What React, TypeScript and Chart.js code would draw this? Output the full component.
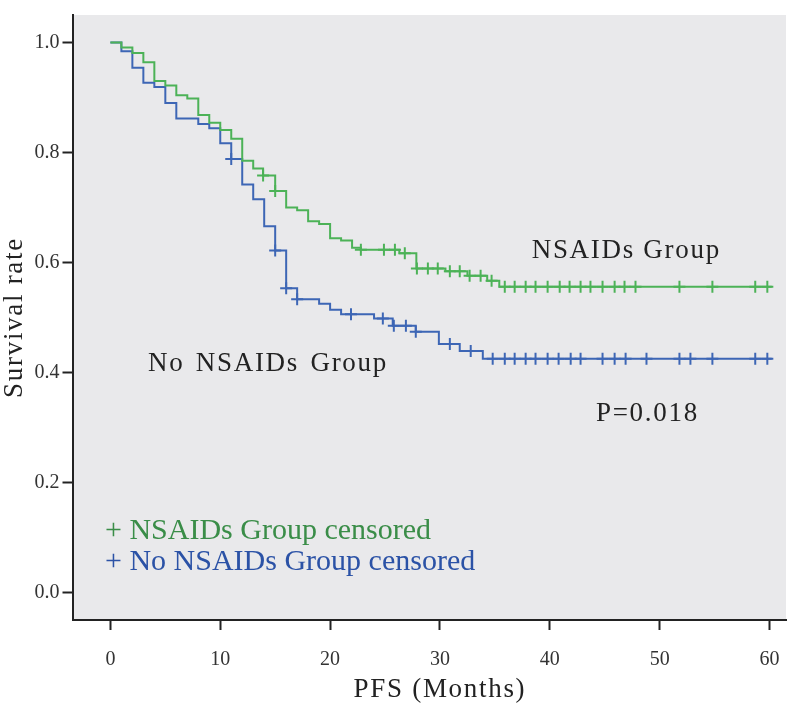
import React, { useEffect, useRef } from "react";
import { Chart, registerables } from "chart.js";

Chart.register(...registerables);

// ---- Data ----
const nsaidTimes = [0, 1, 2, 3, 4, 5, 6, 7, 8, 9, 10, 11, 12, 13, 13.9, 15, 16, 17, 18, 19, 20, 21, 22, 22.8, 26.3, 27.85, 30.5, 32.5, 34.3, 35.4];
const nsaidSurv = [1, 0.991, 0.981, 0.964, 0.93, 0.922, 0.904, 0.898, 0.868, 0.854, 0.841, 0.825, 0.785, 0.771, 0.758, 0.73, 0.7, 0.695, 0.675, 0.67, 0.644, 0.64, 0.627, 0.623, 0.617, 0.589, 0.584, 0.576, 0.567, 0.556];
const nsaidCensored = [13.9, 15, 22.8, 24.9, 25.9, 26.8, 27.9, 28.9, 29.8, 30.9, 31.8, 32.7, 33.7, 34.7, 35.9, 36.8, 37.8, 38.7, 39.8, 40.9, 41.8, 42.8, 43.7, 44.8, 45.9, 46.8, 47.8, 51.8, 54.8, 58.7, 59.8];

const noNsaidTimes = [0, 1, 2, 3, 4, 5, 6, 8, 9, 10, 11, 12, 13, 14, 15, 16, 17, 19, 20, 21, 24, 25.7, 27.8, 29.9, 31.8, 33.9];
const noNsaidSurv = [1, 0.984, 0.954, 0.927, 0.919, 0.89, 0.862, 0.852, 0.844, 0.817, 0.788, 0.742, 0.715, 0.666, 0.622, 0.553, 0.533, 0.525, 0.514, 0.506, 0.498, 0.485, 0.474, 0.452, 0.439, 0.425];
const noNsaidCensored = [11, 15, 16, 17, 21.9, 24.8, 25.8, 26.9, 27.8, 30.9, 32.8, 34.8, 35.9, 36.8, 37.8, 38.7, 39.8, 40.8, 41.9, 42.8, 44.8, 45.9, 46.9, 48.8, 51.8, 52.8, 54.8, 58.7, 59.8];

const followUpEnd = 60.2;
const xTicks = [0, 10, 20, 30, 40, 50, 60];
const yTicks = [0, 0.2, 0.4, 0.6, 0.8, 1.0];

const xTitle = "PFS (Months)";
const yTitle = "Survival rate";
const groupLabels = ["NSAIDs Group", "No NSAIDs Group"];
const legendLabels = ["+ NSAIDs Group censored", "+ No NSAIDs Group censored"];
const pValueLabel = "P=0.018";

const GREEN = "#4cb257";
const BLUE = "#3d66b5";

function survivalAt(times: number[], surv: number[], t: number) {
  let s = surv[0];
  for (let i = 0; i < times.length; i++) {
    if (times[i] <= t + 1e-9) s = surv[i];
  }
  return s;
}

function curve(times: number[], surv: number[]) {
  const pts = times.map((t, i) => ({ x: t, y: surv[i] }));
  pts.push({ x: followUpEnd, y: surv[surv.length - 1] });
  return pts;
}

function censorPoints(cens: number[], times: number[], surv: number[]) {
  return cens.map((t) => ({ x: t, y: survivalAt(times, surv, t) }));
}

const SERIF = "'Liberation Serif', 'Times New Roman', serif";

const decorPlugin = {
  id: "kmDecor",
  beforeDraw(chart: any) {
    const { ctx, chartArea } = chart;
    ctx.save();
    ctx.fillStyle = "#e9e9eb";
    ctx.fillRect(chartArea.left, chartArea.top, chartArea.right - chartArea.left, chartArea.bottom - chartArea.top);
    ctx.restore();
  },
  afterDraw(chart: any) {
    const { ctx, chartArea } = chart;
    const xs = chart.scales.x;
    const ys = chart.scales.y;
    const c = ctx as any;
    ctx.save();
    ctx.textBaseline = "alphabetic";
    ctx.textAlign = "left";
    ctx.fillStyle = "#222";
    ctx.font = `27px ${SERIF}`;
    c.letterSpacing = "1.7px";
    ctx.fillText(groupLabels[0], xs.getPixelForValue(38.35), ys.getPixelForValue(0.608));
    ctx.fillText(pValueLabel, xs.getPixelForValue(44.2), ys.getPixelForValue(0.311));
    c.wordSpacing = "3px";
    ctx.fillText(groupLabels[1], xs.getPixelForValue(3.42), ys.getPixelForValue(0.402));
    c.wordSpacing = "0px";

    // axis titles
    ctx.textAlign = "center";
    ctx.fillText(xTitle, xs.getPixelForValue(30), 697);
    ctx.save();
    ctx.translate(22, (chartArea.top + chartArea.bottom) / 2);
    ctx.rotate(-Math.PI / 2);
    ctx.fillText(yTitle, 0, 0);
    ctx.restore();

    c.letterSpacing = "0px";
    ctx.textAlign = "left";
    ctx.font = `30px ${SERIF}`;
    ctx.fillStyle = "#3a8d48";
    ctx.fillText(legendLabels[0], xs.getPixelForValue(-0.49), ys.getPixelForValue(0.0964));
    ctx.fillStyle = "#2b52a6";
    ctx.fillText(legendLabels[1], xs.getPixelForValue(-0.49), ys.getPixelForValue(0.041));
    ctx.restore();
  },
};

export default function App() {
  const ref = useRef<HTMLCanvasElement | null>(null);

  useEffect(() => {
    document.body.style.margin = "0";
    const canvas = ref.current;
    if (!canvas) return;
    const chart = new Chart(canvas, {
      type: "line",
      data: {
        datasets: [
          {
            label: groupLabels[0],
            data: curve(nsaidTimes, nsaidSurv),
            borderColor: GREEN,
            borderWidth: 2,
            stepped: "before",
            pointRadius: 0,
            fill: false,
          },
          {
            label: groupLabels[1],
            data: curve(noNsaidTimes, noNsaidSurv),
            borderColor: BLUE,
            borderWidth: 2,
            stepped: "before",
            pointRadius: 0,
            fill: false,
          },
          {
            label: legendLabels[0],
            data: censorPoints(nsaidCensored, nsaidTimes, nsaidSurv),
            showLine: false,
            pointStyle: "cross",
            pointRadius: 6,
            pointBorderWidth: 2,
            borderColor: GREEN,
            backgroundColor: GREEN,
          },
          {
            label: legendLabels[1],
            data: censorPoints(noNsaidCensored, noNsaidTimes, noNsaidSurv),
            showLine: false,
            pointStyle: "cross",
            pointRadius: 6,
            pointBorderWidth: 2,
            borderColor: BLUE,
            backgroundColor: BLUE,
          },
        ],
      },
      options: {
        animation: false,
        responsive: false,
        devicePixelRatio: 1,
        events: [],
        layout: { padding: { left: 0, top: 4, right: 14, bottom: 0 } },
        plugins: { legend: { display: false }, tooltip: { enabled: false } },
        scales: {
          x: {
            type: "linear",
            min: -3.45,
            max: 61.5,
            afterBuildTicks: (scale: any) => {
              scale.ticks = xTicks.map((v) => ({ value: v }));
            },
            afterFit: (scale: any) => {
              scale.height = 88;
            },
            ticks: {
              color: "#333",
              font: { family: SERIF, size: 20 },
              padding: 18,
              maxRotation: 0,
            },
            grid: { display: true, drawOnChartArea: false, drawTicks: true, tickLength: 10, tickWidth: 2, color: "#222" },
            border: { display: true, color: "#222", width: 2 },
            title: { display: false },
          },
          y: {
            type: "linear",
            min: -0.05,
            max: 1.05,
            afterBuildTicks: (scale: any) => {
              scale.ticks = yTicks.map((v) => ({ value: v }));
            },
            afterFit: (scale: any) => {
              scale.width = 72.5;
            },
            ticks: {
              color: "#333",
              font: { family: SERIF, size: 20 },
              padding: 3,
              callback: (v: any) => Number(v).toFixed(1),
            },
            grid: { display: true, drawOnChartArea: false, drawTicks: true, tickLength: 10, tickWidth: 2, color: "#222" },
            border: { display: true, color: "#222", width: 2 },
            title: { display: false },
          },
        },
      },
      plugins: [decorPlugin],
    });
    return () => chart.destroy();
  }, []);

  return (
    <div style={{ width: 800, height: 708, background: "#fff" }}>
      <canvas ref={ref} width={800} height={708} style={{ display: "block" }} />
    </div>
  );
}
